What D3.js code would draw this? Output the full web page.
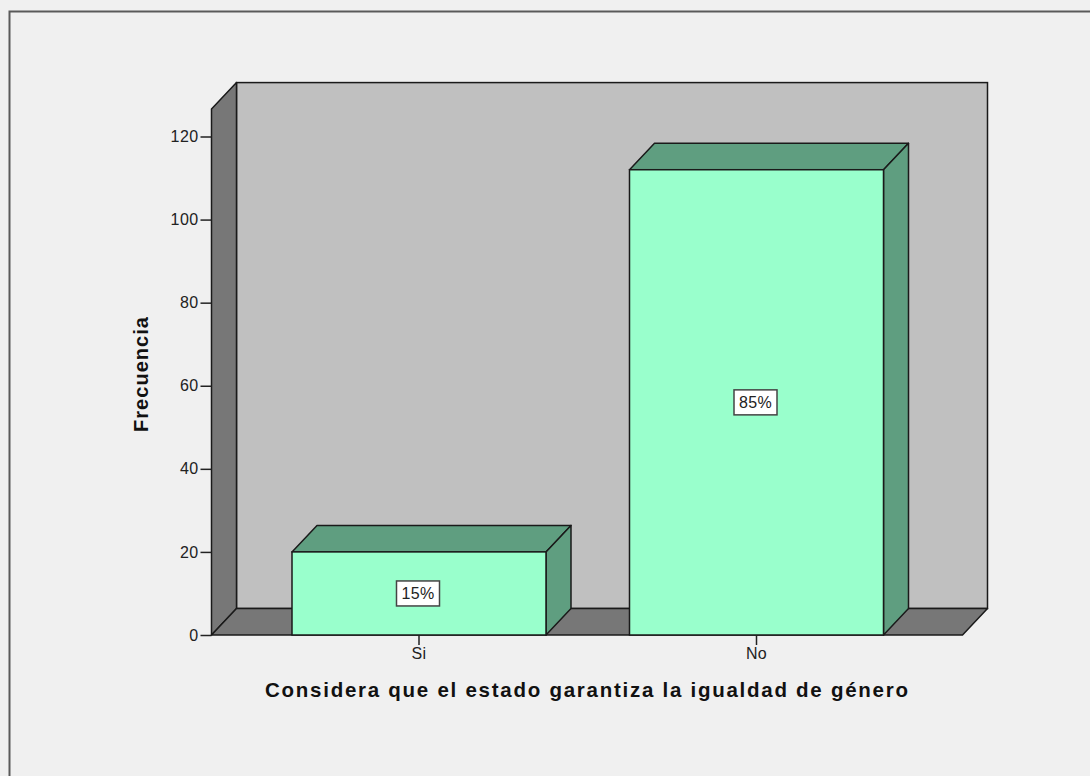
<!DOCTYPE html>
<html><head><meta charset="utf-8">
<script src="https://cdn.jsdelivr.net/npm/d3@7/dist/d3.min.js"></script>
<style>
html,body{margin:0;padding:0;background:#f0f0f0;}
svg{display:block;}
</style></head>
<body>
<svg id="chart" width="1090" height="776"></svg>
<script>
const categories = ["Si", "No"];
const frequencies = [20, 112];
const percentLabels = ["15%", "85%"];
const yTicks = [0, 20, 40, 60, 80, 100, 120];
const xTitle = "Considera que el estado garantiza la igualdad de género";
const yTitle = "Frecuencia";

const svg = d3.select("#chart");
const W = 1090, H = 776;
const FONT = "Liberation Sans, Arial, sans-serif";
svg.append("rect").attr("width", W).attr("height", H).attr("fill", "#f0f0f0");
// outer frame
svg.append("rect").attr("x", 9.5).attr("y", 11.5).attr("width", W + 10).attr("height", H + 10)
  .attr("fill", "none").attr("stroke", "#5a5a5a").attr("stroke-width", 2);

const dx = 25, dy = 26.5;
const y = d3.scaleLinear().domain([0, 120]).range([635, 136.5]);
const yTop = 126.6; // value at wall top
const xL = 211.5, xR = 962.5;
const x = d3.scaleBand().domain(categories).range([250.25, 925.25])
  .paddingInner(0.2474).paddingOuter(0.1237);

const g = svg.append("g");
const stroke = "#1a1a1a";
const wallTop = y(yTop);
// back wall
g.append("rect").attr("x", xL + dx).attr("y", wallTop - dy).attr("width", xR - xL)
  .attr("height", y(0) - wallTop).attr("fill", "#c0c0c0").attr("stroke", stroke).attr("stroke-width", 1.5);
// left wall
g.append("path").attr("d", `M${xL},${y(0)} L${xL},${wallTop} L${xL+dx},${wallTop-dy} L${xL+dx},${y(0)-dy} Z`)
  .attr("fill", "#777777").attr("stroke", stroke).attr("stroke-width", 1.5).attr("stroke-linejoin", "round");
// floor
g.append("path").attr("d", `M${xL},${y(0)} L${xL+dx},${y(0)-dy} L${xR+dx},${y(0)-dy} L${xR},${y(0)} Z`)
  .attr("fill", "#777777").attr("stroke", stroke).attr("stroke-width", 1.5).attr("stroke-linejoin", "round");

// bars
const bars = g.selectAll(".bar").data(categories.map((c, i) => ({c, v: frequencies[i], p: percentLabels[i]})))
  .enter().append("g");
bars.append("path").attr("d", d => {
  const x0 = x(d.c), x1 = x0 + x.bandwidth(), yt = y(d.v);
  return `M${x0},${yt} L${x0+dx},${yt-dy} L${x1+dx},${yt-dy} L${x1},${yt} Z`;
}).attr("fill", "#5f9e80").attr("stroke", stroke).attr("stroke-width", 1.5).attr("stroke-linejoin", "round");
bars.append("path").attr("d", d => {
  const x1 = x(d.c) + x.bandwidth(), yt = y(d.v), yb = y(0);
  return `M${x1},${yt} L${x1+dx},${yt-dy} L${x1+dx},${yb-dy} L${x1},${yb} Z`;
}).attr("fill", "#5f9e80").attr("stroke", stroke).attr("stroke-width", 1.5).attr("stroke-linejoin", "round");
bars.append("rect").attr("x", d => x(d.c)).attr("y", d => y(d.v)).attr("width", x.bandwidth())
  .attr("height", d => y(0) - y(d.v)).attr("fill", "#99ffcc").attr("stroke", stroke).attr("stroke-width", 1.5);

// percent labels
bars.each(function(d) {
  const gg = d3.select(this);
  const cx = x(d.c) + x.bandwidth() / 2 - 1, cy = (y(d.v) + y(0)) / 2;
  gg.append("rect").attr("x", cx - 21.5).attr("y", cy - 12.5).attr("width", 43).attr("height", 25)
    .attr("fill", "#ffffff").attr("stroke", "#444").attr("stroke-width", 1.5);
  gg.append("text").attr("x", cx).attr("y", cy + 6).attr("text-anchor", "middle")
    .attr("font-family", FONT).attr("font-size", 16).attr("letter-spacing", 0.4).attr("fill", "#222")
    .text(d.p);
});

// y axis
const yAxis = svg.append("g").attr("transform", `translate(${xL},0)`)
  .call(d3.axisLeft(y).tickValues(yTicks).tickSize(11).tickPadding(2).tickFormat(d3.format("d")));
yAxis.select(".domain").remove();
yAxis.selectAll("line").attr("stroke", "#222").attr("stroke-width", 1.5);
yAxis.selectAll("text").attr("font-family", FONT).attr("font-size", 16).attr("letter-spacing", 0.4).attr("fill", "#222");

// x axis
const xAxis = svg.append("g").attr("transform", `translate(0,${y(0)})`)
  .call(d3.axisBottom(x).tickSize(10).tickPadding(3));
xAxis.select(".domain").remove();
xAxis.selectAll("line").attr("stroke", "#222").attr("stroke-width", 1.5);
xAxis.selectAll("text").attr("font-family", FONT).attr("font-size", 16).attr("letter-spacing", 0.4).attr("fill", "#222");

// titles
svg.append("text").attr("x", 586.5).attr("y", 697).attr("text-anchor", "middle")
  .attr("font-family", FONT).attr("font-weight", "bold").attr("font-size", 20.5)
  .attr("textLength", 643).attr("lengthAdjust", "spacing").attr("fill", "#111").text(xTitle);
svg.append("text").attr("transform", "translate(148,374.5) rotate(-90)").attr("text-anchor", "middle")
  .attr("font-family", FONT).attr("font-weight", "bold").attr("font-size", 20)
  .attr("textLength", 115).attr("lengthAdjust", "spacing").attr("fill", "#111").text(yTitle);
</script>
</body></html>
